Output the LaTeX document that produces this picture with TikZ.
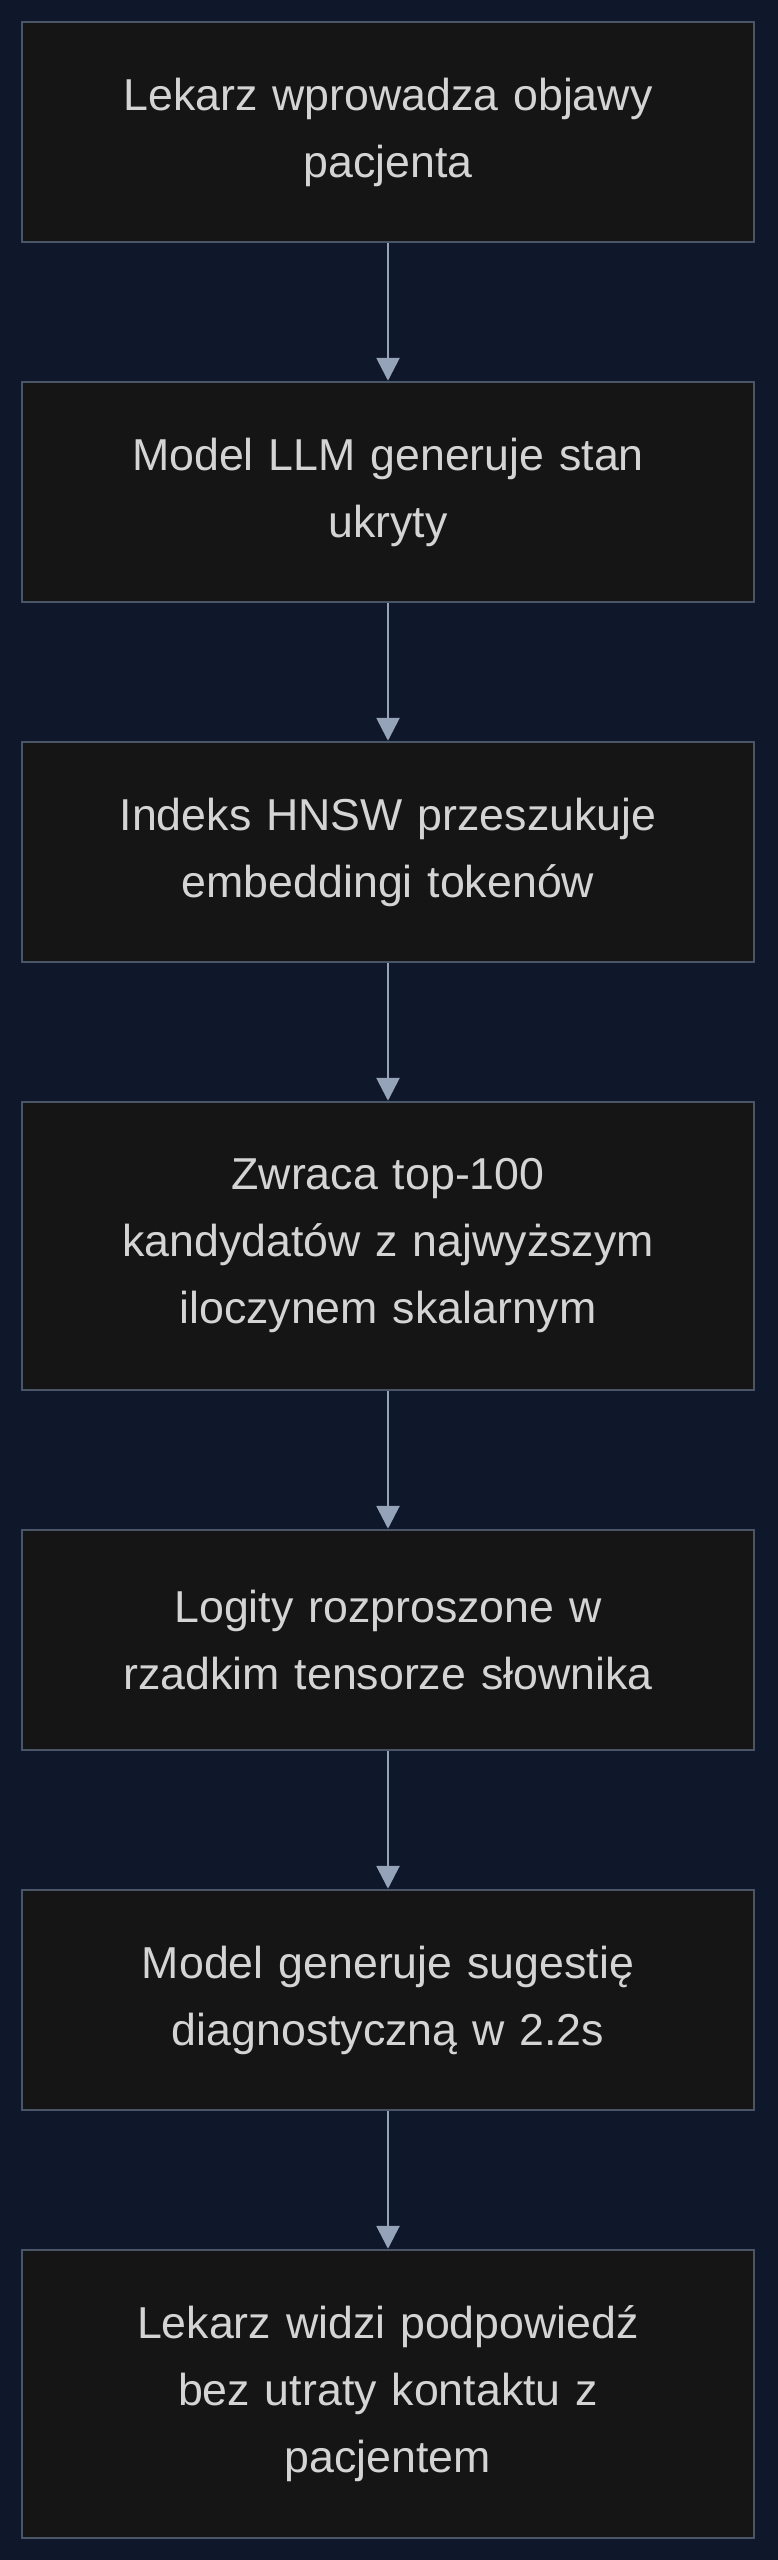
\documentclass[tikz,border=0pt]{standalone}
\usepackage{fontspec}
\setmainfont{Liberation Sans}
\usetikzlibrary{arrows.meta}
\definecolor{bgnavy}{HTML}{0F172A}
\definecolor{boxfill}{HTML}{151515}
\definecolor{boxline}{HTML}{4A5568}
\definecolor{arrowgray}{HTML}{94A3B8}
\definecolor{textgray}{HTML}{D4D4D4}
\tikzset{
    stepbox/.style={draw=boxline, line width=2.5pt, fill=boxfill,
        minimum width=732pt, text width=700pt, align=center,
        text=textgray, inner sep=0pt,
        font=\fontsize{44.7}{67}\selectfont},
    flowarrow/.style={draw=arrowgray, line width=2.8pt,
        -{Triangle[width=23pt,length=23pt]}}
}
\begin{document}
\begin{tikzpicture}[x=1pt,y=-1pt]
            \useasboundingbox (0,0) rectangle (777,2560);
            \fill[bgnavy] (-10,-10) rectangle (787,2570);
            \node[stepbox, minimum height=220pt] (wpis) at (388,132) {Lekarz wprowadza objawy\\pacjenta};
            \node[stepbox, minimum height=220pt] (stan) at (388,492) {Model LLM generuje stan\\ukryty};
            \node[stepbox, minimum height=220pt] (hnsw) at (388,852) {Indeks HNSW przeszukuje\\embeddingi tokenów};
            \node[stepbox, minimum height=288pt] (top) at (388,1246) {Zwraca top-100\\kandydatów z najwyższym\\iloczynem skalarnym};
            \node[stepbox, minimum height=220pt] (logity) at (388,1640) {Logity rozproszone w\\rzadkim tensorze słownika};
            \node[stepbox, minimum height=220pt] (sugestia) at (388,2000) {Model generuje sugestię\\diagnostyczną w 2.2s};
            \node[stepbox, minimum height=288pt] (wynik) at (388,2394) {Lekarz widzi podpowiedź\\bez utraty kontaktu z\\pacjentem};
            \draw[flowarrow] (wpis) -- (stan);
            \draw[flowarrow] (stan) -- (hnsw);
            \draw[flowarrow] (hnsw) -- (top);
            \draw[flowarrow] (top) -- (logity);
            \draw[flowarrow] (logity) -- (sugestia);
            \draw[flowarrow] (sugestia) -- (wynik);
        \end{tikzpicture}
\end{document}
